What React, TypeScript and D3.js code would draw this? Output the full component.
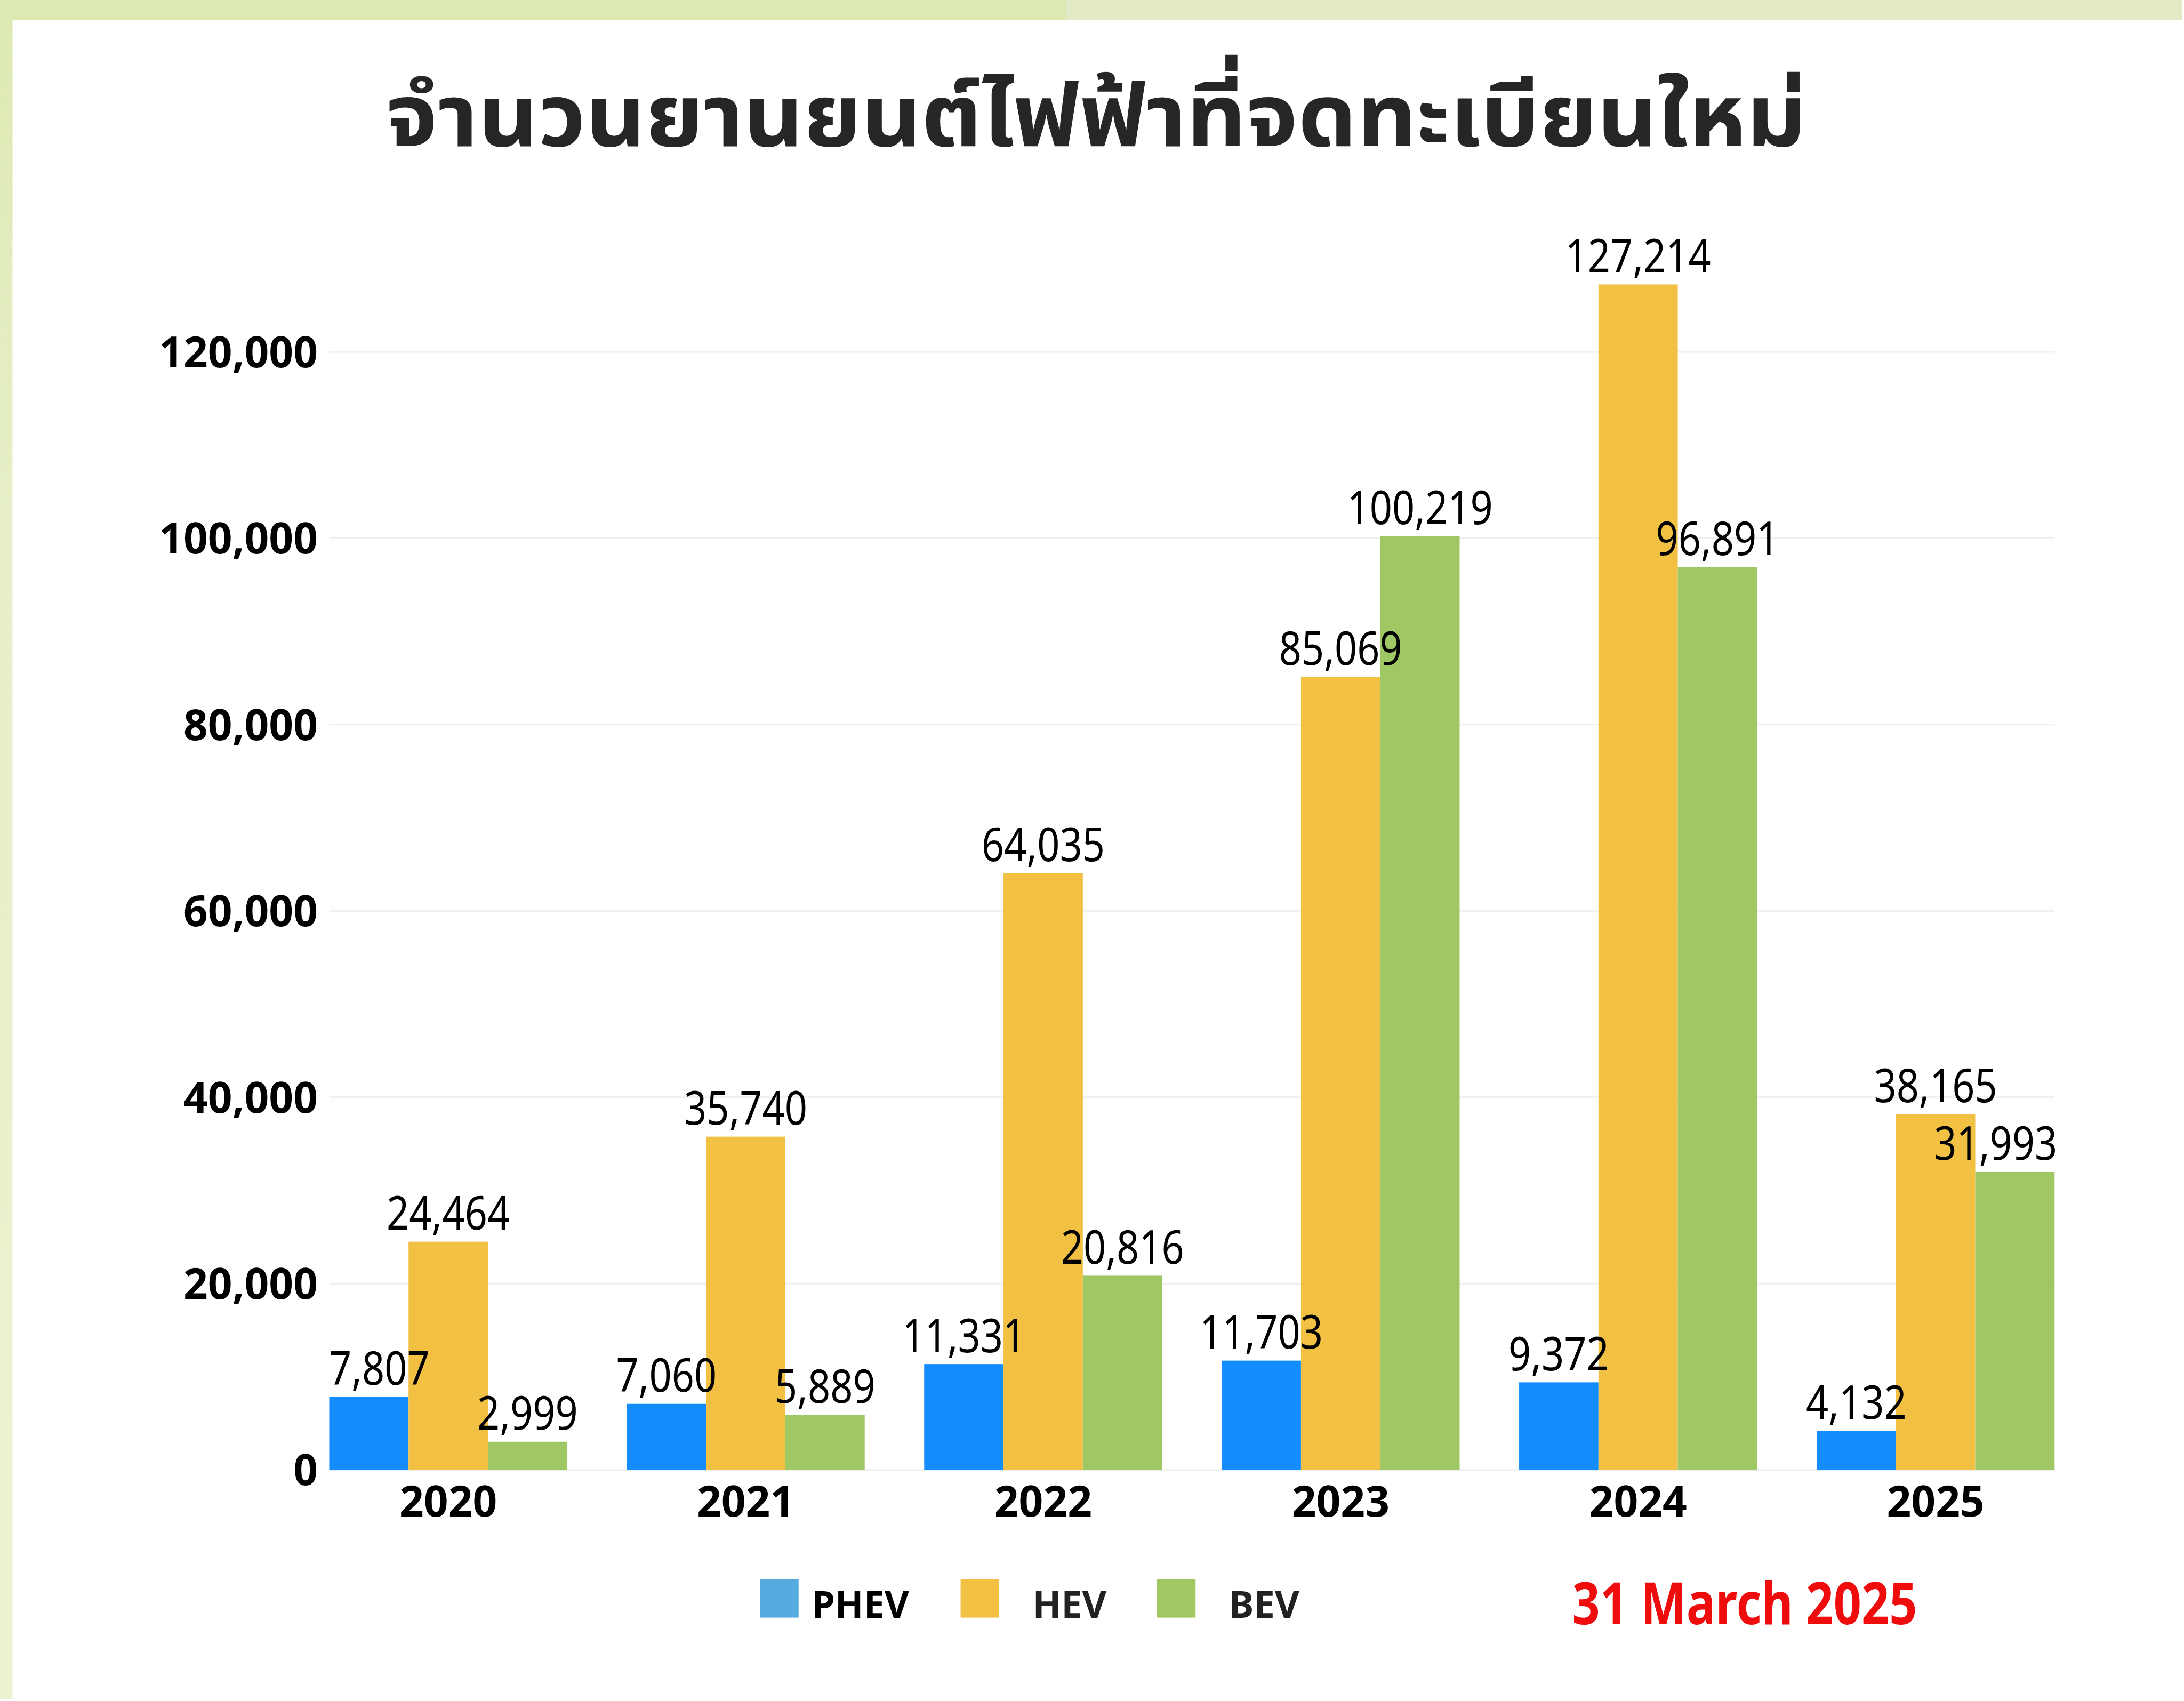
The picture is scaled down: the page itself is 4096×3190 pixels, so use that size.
import React, { useEffect, useRef } from "react";
import * as d3 from "d3";

// ข้อมูลจากภาพ
const years = ["2020", "2021", "2022", "2023", "2024", "2025"];
const seriesNames = ["PHEV", "HEV", "BEV"];
const phev = [7807, 7060, 11331, 11703, 9372, 4132];
const hev = [24464, 35740, 64035, 85069, 127214, 38165];
const bev = [2999, 5889, 20816, 100219, 96891, 31993];
const yTicks = [0, 20000, 40000, 60000, 80000, 100000, 120000];
const title = "จำนวนยานยนต์ไฟฟ้าที่จดทะเบียนใหม่";
const dateNote = "31 March 2025";

const barColors = ["#138dfe", "#f2c144", "#9fc763"];
const legendColors = ["#56abe0", "#f2c144", "#9fc763"];

// label nudges (px, reference scale) for labels the source moved by hand
const labelShift: Record<string, number> = { "2020-PHEV": 20, "2025-BEV": -37 };

const S = 0.977;
const W = 4189;
const H = 3262;
const plot = { left: 632, right: 3944, top: 675, bottom: 2821 };
const legendPos = [
  { box: 1459, text: 1558 },
  { box: 1844, text: 1982 },
  { box: 2221, text: 2359 },
];

const latin = "'Noto Sans', 'Open Sans', sans-serif";
const thai = "'Noto Sans Thai', 'Noto Sans Thai UI', Loma, Garuda, 'Noto Sans', sans-serif";

const rows = years.map((year, i) => ({
  year,
  values: [phev[i], hev[i], bev[i]],
}));

export default function App() {
  const yAxisRef = useRef<SVGGElement>(null);
  const xAxisRef = useRef<SVGGElement>(null);

  const x0 = d3
    .scaleBand()
    .domain(years)
    .range([plot.left, plot.right])
    .paddingInner(0.2)
    .paddingOuter(0);
  const x1 = d3.scaleBand().domain(seriesNames).range([0, x0.bandwidth()]);
  const y = d3.scaleLinear().domain([0, 120000]).range([plot.bottom, plot.top]);
  const fmt = d3.format(",");

  useEffect(() => {
    const yAxis = d3
      .axisLeft(y)
      .tickValues(yTicks)
      .tickFormat((d) => fmt(d as number))
      .tickSize(-(plot.right - plot.left))
      .tickPadding(22);
    const gy = d3.select(yAxisRef.current!).call(yAxis);
    gy.select(".domain").remove();
    gy.selectAll(".tick line").attr("stroke", "#efefef").attr("stroke-width", 3);
    gy.selectAll(".tick text")
      .attr("font-family", latin)
      .attr("font-weight", 700)
      .attr("font-size", 82)
      .attr("fill", "#000")
      .attr("dy", "0.36em");

    const xAxis = d3.axisBottom(x0).tickSize(0).tickPadding(32);
    const gx = d3.select(xAxisRef.current!).call(xAxis);
    gx.select(".domain").remove();
    gx.selectAll(".tick text")
      .attr("font-family", latin)
      .attr("font-weight", 700)
      .attr("font-size", 82)
      .attr("fill", "#000");
  }, []);

  return (
    <svg
      width={4096}
      height={3190}
      style={{ position: "absolute", left: 0, top: 0, display: "block", background: "#fff" }}
    >
      <defs>
        <linearGradient id="sideBand" x1="0" y1="0" x2="0" y2="1">
          <stop offset="0" stopColor="#dde9b2" />
          <stop offset="0.3" stopColor="#e6efc7" />
          <stop offset="1" stopColor="#ecf3d2" />
        </linearGradient>
      </defs>
      <g transform={`scale(${S})`}>
        <rect x={0} y={0} width={W} height={H} fill="#fff" />
        {/* slide decoration */}
        <rect x={0} y={0} width={2047} height={39} fill="#dde9b2" />
        <rect x={2047} y={0} width={W - 2047} height={39} fill="#e2eac6" />
        <rect x={0} y={0} width={24} height={H} fill="url(#sideBand)" />

        <g transform="translate(2104,280) scale(1.06,1)">
          <text
            textAnchor="middle"
            fontFamily={thai}
            fontWeight={700}
            fontSize={168}
            fill="#262626"
          >
            {title}
          </text>
        </g>

        <g ref={yAxisRef} transform={`translate(${plot.left},0)`} />
        <g ref={xAxisRef} transform={`translate(0,${plot.bottom})`} />

        {rows.map((r) => (
          <g key={r.year} transform={`translate(${x0(r.year)},0)`}>
            {r.values.map((v, j) => (
              <rect
                key={seriesNames[j]}
                x={x1(seriesNames[j])}
                y={y(v)}
                width={x1.bandwidth()}
                height={plot.bottom - y(v)}
                fill={barColors[j]}
              />
            ))}
          </g>
        ))}

        {rows.map((r) =>
          r.values.map((v, j) => {
            const cx =
              (x0(r.year) as number) +
              (x1(seriesNames[j]) as number) +
              x1.bandwidth() / 2 +
              (labelShift[`${r.year}-${seriesNames[j]}`] || 0);
            return (
              <g key={`${r.year}-${j}`} transform={`translate(${cx},${y(v) - 23}) scale(0.84,1)`}>
                <text textAnchor="middle" fontFamily={latin} fontSize={90} fill="#000">
                  {fmt(v)}
                </text>
              </g>
            );
          })
        )}

        {seriesNames.map((name, i) => (
          <g key={name}>
            <rect x={legendPos[i].box} y={3031} width={74} height={74} fill={legendColors[i]} />
            <text
              x={legendPos[i].text}
              y={3105}
              fontFamily={latin}
              fontWeight={700}
              fontSize={72}
              fill={i === 0 ? "#000" : "#222"}
            >
              {name}
            </text>
          </g>
        ))}

        <g transform={`translate(3349,3118) scale(0.834,1)`}>
          <text textAnchor="middle" fontFamily={latin} fontWeight={700} fontSize={112} fill="#ee0c0c">
            {dateNote}
          </text>
        </g>
      </g>
    </svg>
  );
}
